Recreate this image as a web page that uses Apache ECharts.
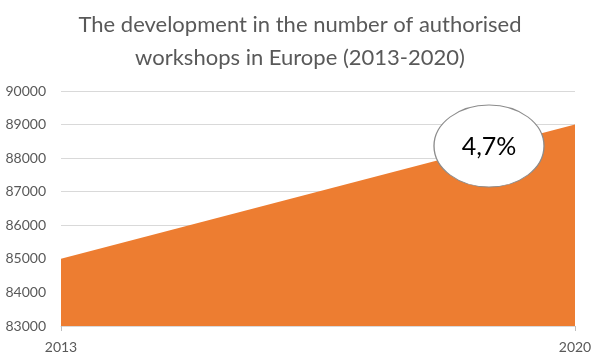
<!DOCTYPE html>
<html><head><meta charset="utf-8">
<script src="https://cdn.jsdelivr.net/npm/echarts@6/dist/echarts.min.js"></script>
<style>html,body{margin:0;padding:0;background:#fff}#c{width:600px;height:356px}</style>
</head><body><div id="c"></div>
<script>
const categories = ['2013', '2020'];
const workshops = [85000, 89000];
const yTicks = [83000, 90000, 1000];
const titleLines = ['The development in the number of authorised', 'workshops in Europe (2013-2020)'];
const annotation = '4,7%';

const chart = echarts.init(document.getElementById('c'));
chart.setOption({
  animation: false,
  title: {
    text: titleLines.join('\n'), left: 'center', top: 3,
    textStyle: { fontFamily: 'Lato', fontSize: 22, fontWeight: 'normal', color: '#595959', lineHeight: 33 }
  },
  grid: { left: 61, right: 25, top: 91, bottom: 30 },
  xAxis: {
    type: 'category', data: categories, boundaryGap: false,
    axisLine: { show: true, lineStyle: { color: '#d9d9d9' } },
    axisTick: { show: true, length: 5, lineStyle: { color: '#bfbfbf' } },
    axisLabel: { color: '#595959', fontFamily: 'Lato', fontSize: 14, margin: 14 }
  },
  yAxis: {
    type: 'value', min: yTicks[0], max: yTicks[1], interval: yTicks[2],
    axisLine: { show: false }, axisTick: { show: false },
    splitLine: { lineStyle: { color: '#d9d9d9' } },
    axisLabel: { color: '#595959', fontFamily: 'Lato', fontSize: 14, margin: 15, formatter: v => String(v) }
  },
  series: [{
    type: 'line', data: workshops, symbol: 'none',
    lineStyle: { width: 0, color: '#ED7D31' },
    areaStyle: { color: '#ED7D31', opacity: 1 }
  }],
  graphic: [
    { type: 'circle', z: 100, x: 489, y: 146, scaleX: 55/41, shape: { cx: 0, cy: 0, r: 41 },
      style: { fill: '#fff', stroke: '#8c8c8c', lineWidth: 1 } },
    { type: 'text', z: 101, x: 489, y: 147, style: { text: annotation, fontFamily: 'Lato', fontSize: 25, fill: '#000', align: 'center', verticalAlign: 'middle' } }
  ]
});
</script></body></html>
